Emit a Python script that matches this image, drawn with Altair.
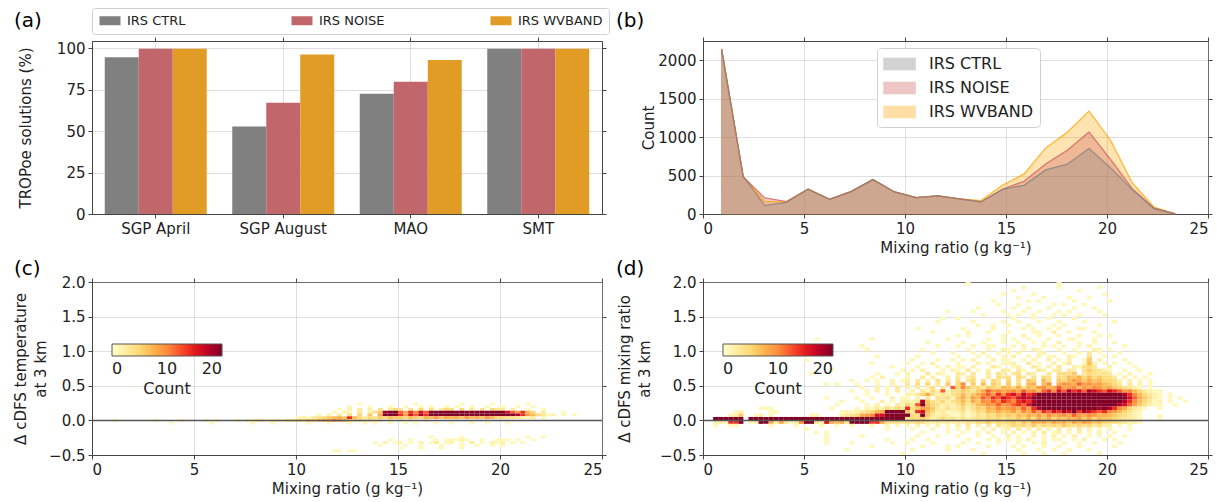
import altair as alt
import pandas as pd

FONT = "DejaVu Sans"
INK = "#222222"
SPINE = "#444444"

# ---------------- (a) share of successful TROPoe retrievals ----------------
SITES = ["SGP April", "SGP August", "MAO", "SMT"]
SERIES = ["IRS CTRL", "IRS NOISE", "IRS WVBAND"]
PCT_CTRL = [94.5, 52.8, 72.5, 99.6]
PCT_NOISE = [99.7, 67.1, 79.8, 99.7]
PCT_WVBAND = [99.7, 96.2, 92.9, 99.7]
BAR_COLORS = ["#808080", "#c1666b", "#e09c24"]

# ---------------- (b) histogram of mixing ratio ----------------
MR_CENTERS = [0.92, 1.99, 3.06, 4.13, 5.2, 6.27, 7.34, 8.41, 9.48, 10.55, 11.62,
              12.69, 13.76, 14.83, 15.9, 16.97, 18.04, 19.11, 20.18, 21.25, 22.32, 23.39]
COUNT_CTRL = [2143, 491, 109, 152, 322, 191, 291, 448, 287, 213, 235,
              196, 157, 322, 374, 574, 648, 852, 600, 317, 70, 0]
COUNT_NOISE = [2150, 483, 209, 161, 322, 191, 295, 448, 287, 213, 235,
               196, 157, 322, 426, 652, 830, 1065, 709, 330, 78, 0]
COUNT_WVBAND = [2143, 483, 165, 152, 322, 191, 291, 448, 287, 213, 235,
                196, 174, 374, 522, 861, 1065, 1339, 957, 404, 91, 0]
AREA_COLORS = ["#808080", "#cd5c5c", "#ffa500"]

# ---------------- (c)/(d) 2-D histograms ----------------
# YlOrRd colour ramp spread evenly over counts 0..20
YLORRD = ["#ffffcc", "#ffeda0", "#fed976", "#feb24c", "#fd8d3c",
          "#fc4e2a", "#e31a1c", "#bd0026", "#800026"]
YLORRD_STOPS = [0, 2.5, 5, 7.5, 10, 12.5, 15, 17.5, 20]

# one character per 0.25 g/kg column; '.' empty, digits = counts, a..g = 10..25
LEVELS = {str(i): i for i in range(1, 10)}
LEVELS.update({"a": 10, "b": 12, "c": 14, "d": 16, "e": 18, "f": 20, "g": 25})

# (c) rows of 0.04 height, given by their lower edge
TEMP_ROW_BOTTOMS = [0.22, 0.18, 0.14, 0.10, 0.06, 0.02, -0.02, -0.06,
                    -0.26, -0.30, -0.34, -0.38, -0.42, -0.46]
TEMP_ROWS = [
    ["", "", "", "", "", "..1.......", "...1......", "..1.....1.", ".....1....", ""],
    ["", "", "", "", "", "1...1...1.", ".1..1.1..1", ".1..1..1..", "1..1..1...", ""],
    ["", "", "", "", "........1.", "2.3.2.4.35", "3.4.5.4.35", "4.5.3.4.53", "3.2..1..1.", ""],
    ["", "", "", "", ".......1.2", "1.3.246egf", "b8cadbgfgg", "gggggggfgg", "gdb9c75.3.", "..1......."],
    ["", "", "", "", "....1.2.3.", "4.5.6.8gfg", "c9dbecgggg", "gggggggggg", "ggfec97531", "2.1.1....."],
    ["", "", "", "", "1213456786", "c753546576", "6576587968", "7869786975", "5443213.1.", ""],
    ["....1.....", "..1....1..", "..1.1...1.", "2132123243", "5465789a87", "5342312.1.", "1.1..1....", "", "", ""],
    ["", ".....1....", "...1......", ".1...1....", "..1...1...", "1..1.1..1.", ".1.1...1..", "1...1..1..", ".1........", ""],
    ["", "", "", "", "", "", "......1...", "..1.......", ".....1..1.", ""],
    ["", "", "", "", "", "........1.", "..1....1.1", "1121..1..1", "11.1..1...", ""],
    ["", "", "", "", "", ".....1.2.1", "2.1.2.13.1", "2.1.3.1.21", "2.1.1.....", ""],
    ["", "", "", "", "", "......1...", ".1..1...1.", "..1..1..1.", "1.........", ""],
    ["", "", "", "", "", "", "1...1...1.", "..1.......", "", ""],
    ["", "", "", "", ".......11.", "11........", "", "", "", ""],
]

# (d) rows of 0.05 height, from 2.0 downwards
MIX_ROWS = [
    ["", "", "", "", "", "..1.......", "", "1.........", "", ""],
    ["", "", "", "", "", "", "...1......", "1.......1.", "", ""],
    ["", "", "", "", "", "", ".1........", "....1.....", "", ""],
    ["", "", "", "", "", ".........1", ".....1....", ".........1", "", ""],
    ["", "", "", "", "", "", "..1....1..", "..1...1...", "", ""],
    ["", "", "", "", "", ".......1..", "....1.1...", "...1......", "1.........", ""],
    ["", "", "", "", "", "........1.", "..1......1", ".1...1....", "", ""],
    ["", "", "", "", "", "....1.....", ".1..1...1.", "...1...1..", "", ""],
    ["", "", "", "", "........1.", "...1.....1", "...1..1...", "1.1.....1.", "", ""],
    ["", "", "", "", "", ".....1....", "1.1..1...1", ".1..1....1", "", ""],
    ["", "", "", "", ".......1..", "1.........", ".1...1..1.", "...1......", "", ""],
    ["", "", "", "", "......1...", "...1.....1", "..1...1...", "1....1....", ".1........", ""],
    ["", "", "", "", "", "....1..1..", "1...1....1", ".1......1.", "", ""],
    ["", "", "", "", "..1.......", ".1.....1..", "...1.1..1.", "1...11....", "", ""],
    ["", "", "", "", ".....1....", "..1...1...", "1....11..2", "..1....1..", "", ""],
    ["", "", "", "", "", "1.1......1", "...2..1...", "1...1...1.", "1.........", ""],
    ["", "", "..1.......", "...1......", "........1.", "......1..1", ".1..1...1.", "..11...1..", "", ""],
    ["", "", "", "", "....1.....", ".1...1...1", "..1..1.1..", "2...1..1..", ".1........", ""],
    ["", "", "", ".1........", "......1...", "1..1..11..", ".1.2...1.1", ".1..1.2...", "...1......", ""],
    ["", "", "", "..1.......", "...1......", "..1...1..2", "1..1.21...", "1..1...21.", "1.........", ""],
    ["", "", ".1........", "", ".....1...1", "...1.2..1.", "1.2...12..", ".1..1.3.1.", "..1.......", ""],
    ["", "", "", "....1.....", "..1.......", "1...1.1..1", ".2..1.2.11", "..21..4..1", ".1........", ""],
    ["", "", "1.........", "", ".1....1..1", ".1.2...2.1", "1..1.2..2.", "1.2..16.2.", "...1......", ""],
    ["", "", "", "...1......", "1..1.2....", "1...2.1..1", "12..3.1..2", ".13..172.1", ".1..1.....", ""],
    ["", "", "", ".......1..", "..1...1.2.", "11.2...31.", ".12..31.2.", "3..21453..", "2....1....", ""],
    ["", "", ".....1....", ".........1", ".1.2...1.2", "1.3.1.2..3", "2.31..32.2", "3.32.46432", "1..1..1...", ""],
    ["", "", ".1........", "....1...1.", "2...3.21..", "32.3..3.42", ".34.32..3.", "4546.35434", "3.1.2...1.", ""],
    ["", "", "", "...1.2....", "1..3.2..2.", "3.24..3.43", "4.53.4.54.", "5476857464", "43.2.1.1..", ""],
    ["", "", ".........1", "..1.1..2.1", "2.3.2.4.3.", "4.35.4.53.", "5.4.65.74.", "6579868675", "542.2.1.1.", ""],
    ["", "", "....1.1...", "1...1..2..", "3.4.5.3.6.", "5a.6.7.64.", "6.5.78.7a.", "8a98b9a897", "653.3.2.1.", ""],
    ["", "", "", ".1..2.1.3.", "2.3.24.3.b", "5a64536547", "6584769a78", "b89a798a97", "8654321.1.", ""],
    ["", "", ".........1", "..1.2.1.3.", ".2.3152b14", "465368b9a8", "9a8b9a7bca", "dbecdbedcb", "dcb9a75321", "1........."],
    ["", "", "", "..1...1...", "2135842324", "57468ab9ca", "cdbecdfggf", "gggfgggfgg", "ggfeca7532", "1.1......."],
    ["", "", "....1.....", "1..1...2.1", "1.2.3.4352", "68597bacbd", "cbdedfgggg", "gggggggggg", "gggfdb8642", "1.1.1....."],
    ["", "", ".......1..", ".1...2.1.2", "213e643524", "57486a9bac", "bacdcegggg", "gggggggggg", "ggfeca7531", "2.1..1...."],
    ["", "", "......1...", "..1.2.1.31", "53bg754232", "463578a9b9", "abcbdfgggg", "gggggggggg", "gfedb96421", "1..1......"],
    ["", ".111......", ".....1....", "1.21324353", "c469863242", "35246587a8", "9a8b9cefgg", "gfggggfgef", "eca85321..", "1........."],
    ["......12..", "...11.....", ".......121", "234578fffg", "63cd752312", "2413547686", "796a8b9cbd", "cedfcedcbc", "a975421...", ""],
    [".....126..", "12.1......", ".11....234", "589addgggg", "g54f632321", "1312435465", "65768797a8", "9a8b98a978", "7654321...", "1........."],
    ["..gggggg.g", "gggggggggg", "gggggggggg", "gggggggggg", "3546423534", "2423435453", "5465748685", "7687968576", "6543321...", "1........."],
    ["..221ccg.1", "2gg828312a", "gg32d8783g", "gggcc84443", "4354323232", "3243546354", "5647587869", "7869798675", "5443221...", ""],
    ["..1..11...", "...1....1.", "...1..1..1", "...1..1.1.", "1.2.1.2.1.", "2.3.2.3.42", "3545363545", "4654545342", "2.1.1.....", ""],
    ["", "", "1.........", "......1...", ".1...1..1.", "1.2..1.2.1", "2.3.2.3.2.", "3.2.3.2.1.", "1...1.....", ""],
    ["", "", "..1.1.....", "", "...1....1.", ".1..1.2..1", ".2.1.2.3.1", "2.1.2.1.2.", ".1........", ""],
    ["", "", "....1.....", ".1........", "..1...1...", "1...1..1..", "2.1..2.1.2", ".1.2..1.1.", "1..1......", ""],
    ["", "", "....1.....", "......1...", ".1..1.....", "..1...1.1.", "1.1.2..1.1", "1..1.2...1", ".1........", ""],
    ["", "", "....1....1", ".......1..", "1....1....", ".1..1...1.", "..1..1.2..", ".1..1..1..", "..1.......", ""],
    ["", "", "", "...1......", "...1....1.", "1.....1...", ".1.1...1..", "1...1.....", ".1........", ""],
    ["", "", "........1.", "", ".1......1.", "...1......", "..1...1..1", "..1...1...", "", ""],
    ["", "", "", ".........1", "", ".....1....", "...1...1..", ".1......1.", "", ""],
]
MIX_ROW_BOTTOMS = [round(1.95 - 0.05 * r, 2) for r in range(len(MIX_ROWS))]


def cells(rows, bottoms, dy, dx=0.25):
    recs = []
    for groups, y0 in zip(rows, bottoms):
        line = "".join(g.ljust(10, ".")[:10] for g in groups)
        for i, ch in enumerate(line):
            n = LEVELS.get(ch, 0)
            if n:
                recs.append({"x0": round(i * dx, 3), "x1": round((i + 1) * dx, 3),
                             "y0": round(y0, 3), "y1": round(y0 + dy, 3), "n": n})
    return pd.DataFrame(recs)


LEFT_W, RIGHT_W, PANEL_H = 510, 505, 173
MR_TITLE = "Mixing ratio (g kg\u207b\u00b9)"
MR_TICKS = [0, 5, 10, 15, 20, 25]
DIFF_TICKS = [-0.5, 0.0, 0.5, 1.0, 1.5, 2.0]

# bare tick marks for the top and right spines
MIRROR = dict(labels=False, title=None, grid=False, domain=False, ticks=True,
              tickSize=4, tickColor=SPINE)


def letter(tag, dx, dy):
    return alt.Chart(pd.DataFrame({"t": [tag]})).mark_text(
        align="left", baseline="middle", fontSize=20, font=FONT, color="black"
    ).encode(text="t:N", x=alt.value(dx), y=alt.value(dy))


def with_mirror(main, mirror_layer, width):
    return alt.layer(main, mirror_layer).resolve_axis(
        x="independent", y="independent"
    ).properties(width=width, height=PANEL_H)


def mirror_q(df, xfield, yfield, xvals, yvals):
    return alt.Chart(df).mark_point(opacity=0, size=1).encode(
        x=alt.X(xfield, axis=alt.Axis(orient="top", values=xvals, **MIRROR)),
        y=alt.Y(yfield, axis=alt.Axis(orient="right", values=yvals, **MIRROR)),
    )


# ---- (a) grouped bars ----
bars_df = pd.DataFrame(
    [{"site": s, "series": SERIES[k], "pct": v}
     for k, vals in enumerate([PCT_CTRL, PCT_NOISE, PCT_WVBAND])
     for s, v in zip(SITES, vals)]
)
bars = alt.Chart(bars_df).mark_bar().encode(
    x=alt.X("site:N", sort=SITES,
            scale=alt.Scale(paddingInner=0.2, paddingOuter=0.1),
            axis=alt.Axis(title=None, labelAngle=0, grid=True, bandPosition=0.5)),
    xOffset=alt.XOffset("series:N", sort=SERIES,
                        scale=alt.Scale(paddingInner=0, paddingOuter=0)),
    y=alt.Y("pct:Q", scale=alt.Scale(domain=[0, 104.3], nice=False),
            axis=alt.Axis(values=[0, 25, 50, 75, 100], title="TROPoe solutions (%)",
                          titlePadding=23)),
    color=alt.Color("series:N", sort=SERIES,
                    scale=alt.Scale(domain=SERIES, range=BAR_COLORS),
                    legend=alt.Legend(title=None, orient="none", legendX=0, legendY=-33,
                                      direction="horizontal", columns=3, gridAlign="each",
                                      columnPadding=104, labelFontSize=13, labelOffset=16,
                                      symbolType="M-1,-0.9H3.2V0.9H-1Z", symbolSize=100,
                                      symbolStrokeWidth=0, padding=6, strokeColor="#d0d0d0",
                                      fillColor="white", cornerRadius=3, labelColor=INK)),
)
bars_mirror = alt.Chart(bars_df).mark_point(opacity=0, size=1).encode(
    x=alt.X("site:N", sort=SITES, axis=alt.Axis(orient="top", bandPosition=0.5, **MIRROR)),
    y=alt.Y("pct:Q", axis=alt.Axis(orient="right", values=[0, 25, 50, 75, 100], **MIRROR)),
)
panel_a = with_mirror(alt.layer(bars, letter("(a)", -78, -20)), bars_mirror, LEFT_W)

# ---- (b) overlapping histograms ----
hist_df = pd.DataFrame(
    [{"mr": x, "count": c, "series": SERIES[k]}
     for k, vals in enumerate([COUNT_CTRL, COUNT_NOISE, COUNT_WVBAND])
     for x, c in zip(MR_CENTERS, vals)]
)
hist_legend = alt.Legend(title=None, orient="none", legendX=174, legendY=7,
                         symbolType="M-1,-0.6H2.45V0.6H-1Z", symbolSize=324,
                         symbolStrokeWidth=1.5, symbolOpacity=0.35, labelFontSize=16,
                         labelOffset=26, rowPadding=5, padding=6, strokeColor="#d0d0d0",
                         fillColor="white", cornerRadius=4, labelColor=INK)
MR_X = alt.X("mr:Q", scale=alt.Scale(domain=[0, 25], nice=False),
             axis=alt.Axis(values=MR_TICKS, title=MR_TITLE))
COUNT_Y = alt.Y("count:Q", scale=alt.Scale(domain=[0, 2252], nice=False),
                axis=alt.Axis(values=[0, 500, 1000, 1500, 2000], format="d", title="Count",
                              titlePadding=1))


def hist_area(name):
    return alt.Chart(hist_df).transform_filter(alt.datum.series == name).mark_area(
        opacity=0.3, strokeWidth=1.2
    ).encode(
        x=MR_X, y=COUNT_Y,
        fill=alt.Fill("series:N", scale=alt.Scale(domain=SERIES, range=AREA_COLORS),
                      legend=hist_legend),
        stroke=alt.Stroke("series:N", scale=alt.Scale(domain=SERIES, range=AREA_COLORS),
                          legend=hist_legend),
    )


def hist_line(name):
    k = SERIES.index(name)
    return alt.Chart(hist_df).transform_filter(alt.datum.series == name).mark_line(
        color=AREA_COLORS[k], strokeOpacity=0.7, strokeWidth=1.3
    ).encode(x=MR_X, y=COUNT_Y)


hist_main = alt.layer(
    hist_area("IRS WVBAND"), hist_area("IRS NOISE"), hist_area("IRS CTRL"),
    hist_line("IRS WVBAND"), hist_line("IRS NOISE"), hist_line("IRS CTRL"),
    letter("(b)", -87, -20),
)
panel_b = with_mirror(
    hist_main,
    mirror_q(hist_df, "mr:Q", "count:Q", MR_TICKS, [0, 500, 1000, 1500, 2000]),
    RIGHT_W,
)


# ---- (c), (d) 2-D histograms ----
def heat_panel(df, ytitle, tag, dx, width, tpad):
    heat = alt.Chart(df).mark_rect(strokeWidth=0).encode(
        x=alt.X("x0:Q", scale=alt.Scale(domain=[0, 25], nice=False, zero=False),
                axis=alt.Axis(values=MR_TICKS, title=MR_TITLE)),
        x2="x1:Q",
        y=alt.Y("y0:Q", scale=alt.Scale(domain=[-0.5, 2.0], nice=False, zero=False),
                axis=alt.Axis(values=DIFF_TICKS, format=".1f", labelOverlap=False,
                              title=ytitle, titlePadding=tpad, titleLineHeight=20)),
        y2="y1:Q",
        color=alt.Color("n:Q", scale=alt.Scale(domain=YLORRD_STOPS, range=YLORRD,
                                               clamp=True, interpolate="rgb"),
                        legend=alt.Legend(title="Count", orient="none", legendX=20, legendY=62,
                                          direction="horizontal", gradientLength=110,
                                          gradientThickness=12, values=[0, 10, 20],
                                          labelFontSize=16, titleFontSize=16,
                                          titleFontWeight="normal", titleOrient="bottom",
                                          titleAnchor="middle", labelAlign="center",
                                          labelOverlap=False,
                                          gradientStrokeColor="#555555",
                                          gradientStrokeWidth=1, padding=0, labelOffset=5,
                                          titlePadding=4, labelColor=INK, titleColor=INK)),
    )
    # zero line sits with the spine ticks so it draws above the cells
    zero = alt.Chart(pd.DataFrame({"z": [0]})).mark_rule(
        color="#555555", strokeWidth=1.5
    ).encode(y=alt.datum(0))
    main = alt.layer(heat, letter(tag, dx, -13))
    overlay = alt.layer(mirror_q(df, "x0:Q", "y0:Q", MR_TICKS, DIFF_TICKS), zero)
    return with_mirror(main, overlay, width)


temp_df = cells(TEMP_ROWS, TEMP_ROW_BOTTOMS, 0.04)
mix_df = cells(MIX_ROWS, MIX_ROW_BOTTOMS, 0.05)

panel_c = heat_panel(temp_df, ["\u0394 cDFS temperature", "at 3 km"], "(c)", -78, LEFT_W, 0)
panel_d = heat_panel(mix_df, ["\u0394 cDFS mixing ratio", "at 3 km"], "(d)", -87, RIGHT_W, 7)

chart = alt.concat(
    panel_a, panel_b, panel_c, panel_d,
    columns=2, spacing={"row": 68, "column": 101}, bounds="flush",
).resolve_scale(
    color="independent", fill="independent", stroke="independent"
).resolve_legend(
    color="independent", fill="independent", stroke="independent"
).properties(
    padding={"left": 13, "top": 7, "right": 2, "bottom": 2}
).configure(
    font=FONT
).configure_axis(
    labelFontSize=15, titleFontSize=15, titleFontWeight="normal",
    labelColor=INK, titleColor=INK, labelFont=FONT, titleFont=FONT,
    tickColor=SPINE, tickSize=4, domainColor=SPINE, domainWidth=1,
    gridColor="#b0b0b0", gridOpacity=0.4, labelPadding=3, zindex=1,
    labelOverlap=False,
).configure_view(
    stroke=SPINE, strokeWidth=1
)

chart.save("out.html", embed_options={"renderer": "svg", "actions": False})
